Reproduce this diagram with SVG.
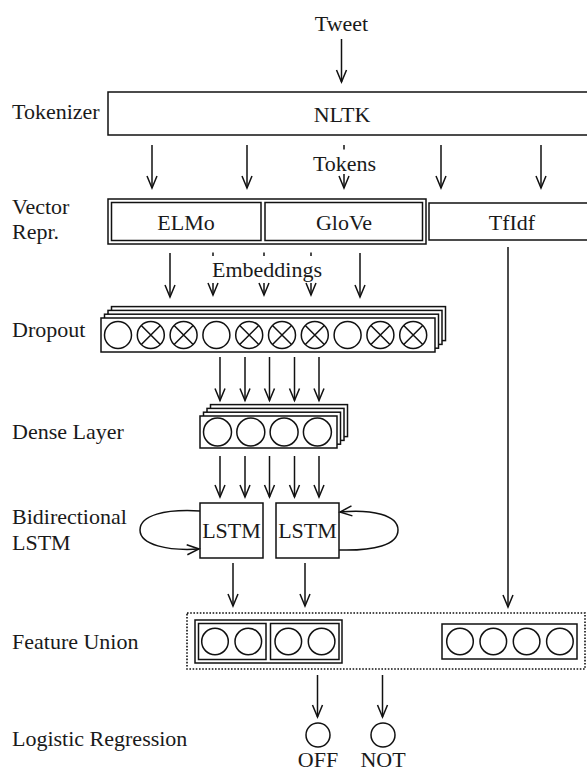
<svg xmlns="http://www.w3.org/2000/svg" width="587" height="773" viewBox="0 0 587 773">
<defs>
<style>
text{font-family:"Liberation Serif","Times New Roman",serif;font-size:22px;fill:#1a1a1a}
.m{text-anchor:middle}
.b{fill:#fff;stroke:#111;stroke-width:1.5}
.n{fill:none;stroke:#111;stroke-width:1.5}
.c{fill:none;stroke:#111;stroke-width:1.5}
.a{fill:none;stroke:#111;stroke-width:1.5;marker-end:url(#ah)}
.d{fill:none;stroke:#111;stroke-width:1.6;stroke-dasharray:1.6 1.6}
</style>
<marker id="ah" viewBox="-14 -7 16 14" refX="0" refY="0" markerWidth="16" markerHeight="14" markerUnits="userSpaceOnUse" orient="auto">
<path d="M-12,-5 L0,0 L-12,5" fill="none" stroke="#111" stroke-width="1.5"/>
</marker>
<g id="x"><path d="M-9.5,-9.5 L9.5,9.5 M-9.5,9.5 L9.5,-9.5" stroke="#111" stroke-width="1.5"/></g>
</defs>
<rect width="587" height="773" fill="#fff"/>

<g id="labels">
<text x="12" y="119">Tokenizer</text>
<text x="12" y="214">Vector</text>
<text x="12" y="239">Repr.</text>
<text x="12" y="337">Dropout</text>
<text x="12" y="439">Dense Layer</text>
<text x="12" y="524">Bidirectional</text>
<text x="12" y="550">LSTM</text>
<text x="12" y="649">Feature Union</text>
<text x="12" y="746">Logistic Regression</text>
</g>

<g id="tweet"><text class="m" x="341.5" y="31">Tweet</text></g>

<g id="nltk">
<rect class="b" x="108" y="92" width="500" height="43"/>
<text class="m" x="342" y="122">NLTK</text>
</g>

<g id="vector-repr">
<rect class="b" x="108" y="199" width="318" height="45"/>
<g id="elmo"><rect class="b" x="111.5" y="202.5" width="149.5" height="38"/><text class="m" x="186" y="230">ELMo</text></g>
<g id="glove"><rect class="b" x="265" y="202.5" width="157.5" height="38"/><text class="m" x="344" y="230">GloVe</text></g>
</g>
<g id="tfidf"><rect class="b" x="429" y="203" width="180" height="37"/><text class="m" x="512" y="230">TfIdf</text></g>

<g id="dropout">
<rect class="b" x="111.5" y="306.6" width="334" height="34"/>
<rect class="b" x="108" y="310.4" width="334" height="34"/>
<rect class="b" x="104.5" y="314.2" width="334" height="34"/>
<rect class="b" x="101" y="318" width="334" height="34"/>
<circle class="c" cx="118" cy="335" r="13.5"/>
<circle class="c" cx="150.8" cy="335" r="13.5"/><use href="#x" x="150.8" y="335"/>
<circle class="c" cx="183.6" cy="335" r="13.5"/><use href="#x" x="183.6" y="335"/>
<circle class="c" cx="216.4" cy="335" r="13.5"/>
<circle class="c" cx="249.2" cy="335" r="13.5"/><use href="#x" x="249.2" y="335"/>
<circle class="c" cx="282" cy="335" r="13.5"/><use href="#x" x="282" y="335"/>
<circle class="c" cx="314.8" cy="335" r="13.5"/><use href="#x" x="314.8" y="335"/>
<circle class="c" cx="347.6" cy="335" r="13.5"/>
<circle class="c" cx="380.4" cy="335" r="13.5"/><use href="#x" x="380.4" y="335"/>
<circle class="c" cx="413.2" cy="335" r="13.5"/><use href="#x" x="413.2" y="335"/>
</g>

<g id="dense">
<rect class="b" x="210.5" y="404.6" width="137" height="32"/>
<rect class="b" x="207" y="408.4" width="137" height="32"/>
<rect class="b" x="203.5" y="412.2" width="137" height="32"/>
<rect class="b" x="200" y="416" width="137" height="32"/>
<circle class="c" cx="217.5" cy="432" r="14"/>
<circle class="c" cx="250.8" cy="432" r="14"/>
<circle class="c" cx="284.1" cy="432" r="14"/>
<circle class="c" cx="317.4" cy="432" r="14"/>
</g>

<g id="lstm-fwd"><rect class="b" x="200" y="503" width="63" height="55"/><text class="m" x="231.5" y="538">LSTM</text></g>
<g id="lstm-bwd"><rect class="b" x="276" y="503" width="63" height="55"/><text class="m" x="307.5" y="538">LSTM</text></g>

<g id="feature-union">
<rect class="d" x="187" y="613" width="398" height="56"/>
<rect class="b" x="195" y="620" width="147" height="43"/>
<rect class="b" x="198.5" y="623.5" width="67.5" height="36"/>
<rect class="b" x="270.5" y="623.5" width="68.5" height="36"/>
<circle class="c" cx="215" cy="641.5" r="13.3"/>
<circle class="c" cx="248.3" cy="641.5" r="13.3"/>
<circle class="c" cx="288.3" cy="641.5" r="13.3"/>
<circle class="c" cx="321.6" cy="641.5" r="13.3"/>
<rect class="b" x="442" y="624" width="135" height="35"/>
<circle class="c" cx="460" cy="641.5" r="13.3"/>
<circle class="c" cx="493.3" cy="641.5" r="13.3"/>
<circle class="c" cx="526.6" cy="641.5" r="13.3"/>
<circle class="c" cx="559.9" cy="641.5" r="13.3"/>
</g>

<g id="out-off"><circle class="c" cx="318" cy="735" r="12"/><text class="m" x="318" y="767">OFF</text></g>
<g id="out-not"><circle class="c" cx="383" cy="735" r="12"/><text class="m" x="383" y="767">NOT</text></g>

<g id="connectors">
<path class="a" d="M341.5,39 V82"/>
<path class="a" d="M152,145 V188"/>
<path class="a" d="M247,145 V188"/>
<path class="n" d="M344,145 V149.5"/>
<path class="a" d="M344,174 V188"/>
<path class="a" d="M441,145 V188"/>
<path class="a" d="M541,145 V188"/>
<path class="a" d="M170,253 V297"/>
<path class="n" d="M213,252.5 V256"/>
<path class="a" d="M213,283 V295"/>
<path class="n" d="M264,252.5 V256"/>
<path class="a" d="M264,283 V295"/>
<path class="n" d="M311,252.5 V256"/>
<path class="a" d="M311,283 V295"/>
<path class="a" d="M360,253 V297"/>
<path class="a" d="M220,357 V400.5"/>
<path class="a" d="M245,357 V400.5"/>
<path class="a" d="M269.5,357 V400.5"/>
<path class="a" d="M294.5,357 V400.5"/>
<path class="a" d="M319,357 V400.5"/>
<path class="a" d="M220,456 V497"/>
<path class="a" d="M245,456 V497"/>
<path class="a" d="M269.5,456 V497"/>
<path class="a" d="M294.5,456 V497"/>
<path class="a" d="M319,456 V497"/>
<path class="a" d="M200,511 C165,509 140,515 140,530 C140,545 168,551 199,549"/>
<path class="a" d="M339,550 C374,551 398,545 398,530 C398,515 372,509 340,512"/>
<path class="a" d="M233,563 V606"/>
<path class="a" d="M305,563 V606"/>
<path class="a" d="M508,247 V607"/>
<path class="a" d="M317.5,675 V717"/>
<path class="a" d="M382.5,675 V717"/>
</g>

<g id="edge-labels">
<text class="m" x="344.5" y="171">Tokens</text>
<text x="212" y="277">Embeddings</text>
</g>
</svg>
